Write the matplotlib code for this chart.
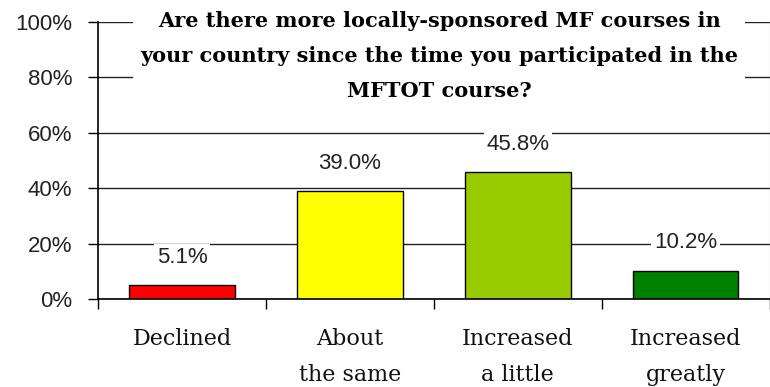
import matplotlib.pyplot as plt
import numpy as np

# data
categories = ["Declined", "About\nthe same", "Increased\na little", "Increased\ngreatly"]
values = [5.1, 39.0, 45.8, 10.2]
value_labels = ["5.1%", "39.0%", "45.8%", "10.2%"]
bar_colors = ["#ff0000", "#ffff00", "#99cc00", "#008000"]
yticks = [0, 20, 40, 60, 80, 100]
title = ("Are there more locally-sponsored MF courses in\n"
         "your country since the time you participated in the\n"
         "MFTOT course?")

fig = plt.figure(figsize=(7.7, 3.87), dpi=100)
ax = fig.add_axes([98/770, 88/387, 671.5/770, 277/387])

x = np.arange(len(values))
ax.bar(x, values, width=0.63, color=bar_colors, edgecolor="black", linewidth=1, zorder=2)

ax.set_xlim(-0.5, 3.5)
ax.set_ylim(0, 100)
ax.set_yticks(yticks)
ax.set_yticklabels([f"{t}%" for t in yticks], fontsize=16, family="Liberation Sans", color="#222222")
ax.yaxis.grid(True, color="#222222", linewidth=1, zorder=0)
ax.set_axisbelow(True)

# category labels between tick marks
ax.set_xticks(x)
ax.set_xticklabels(categories, fontsize=16, family="DejaVu Serif", linespacing=1.82, color="#111111")
ax.tick_params(axis="x", which="major", length=0, pad=21)
ax.set_xticks(np.arange(-0.5, 3.6, 1), minor=True)
ax.tick_params(axis="x", which="minor", length=7, width=1, color="black")
ax.tick_params(axis="y", length=7.5, width=1, color="black", pad=11)

ax.spines["top"].set_visible(False)
ax.spines["right"].set_color("#999999")
ax.spines["left"].set_linewidth(1.2)
ax.spines["bottom"].set_linewidth(1.2)

for xi, v, lab in zip(x, values, value_labels):
    ax.annotate(lab, (xi, v), xytext=(0, 20), textcoords="offset points",
                ha="center", va="center", fontsize=16, family="Liberation Sans",
                color="#222222",
                bbox=dict(facecolor="white", edgecolor="none", pad=2), zorder=3)

fig.text(439/770, 1 - 56/387, title, ha="center", va="center", fontsize=15,
         fontweight="bold", family="DejaVu Serif", linespacing=1.95,
         bbox=dict(facecolor="white", edgecolor="none", pad=5), zorder=5)

fig.savefig("out.png", dpi=100)
